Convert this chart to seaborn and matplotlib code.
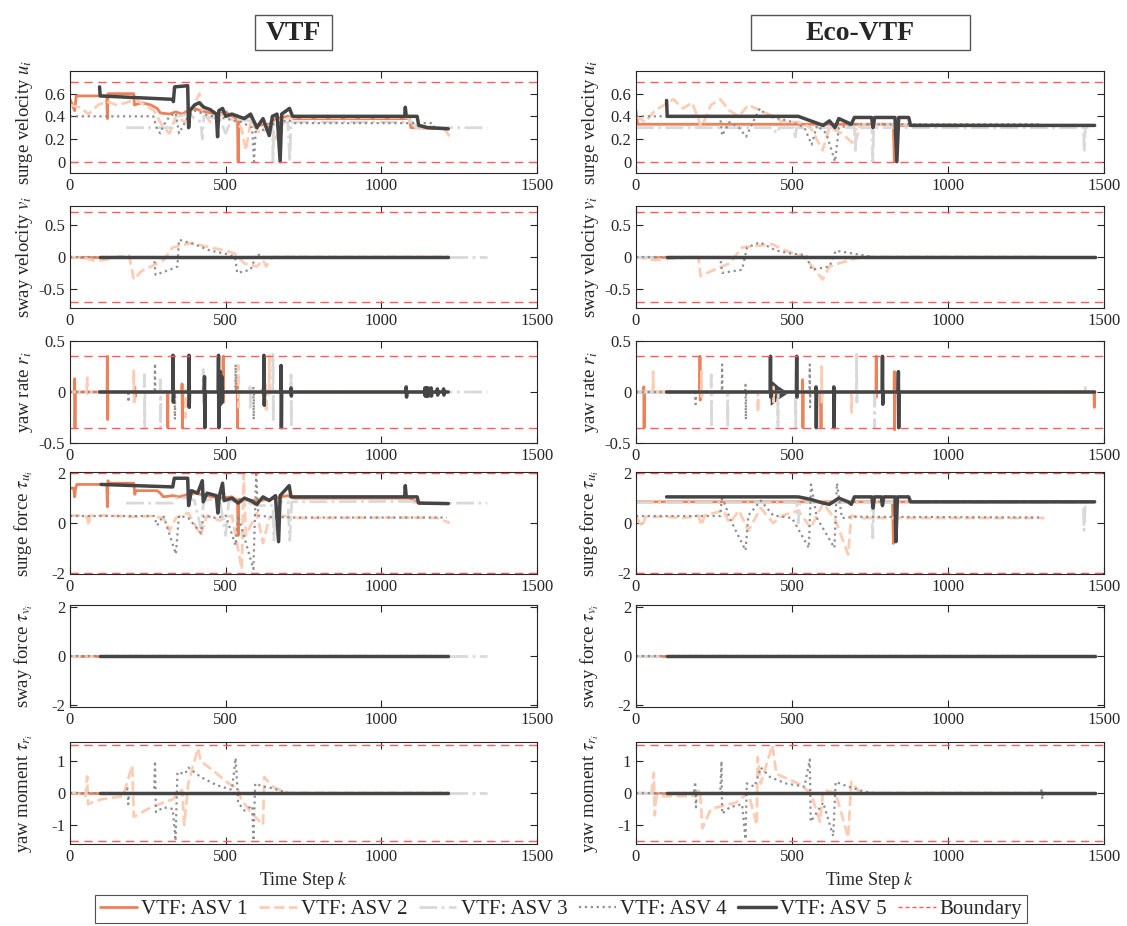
import matplotlib
matplotlib.use('Agg')
import matplotlib.pyplot as plt
import seaborn as sns
import pandas as pd
from matplotlib.lines import Line2D
from matplotlib.patches import Rectangle

# ---------------- data ----------------
# series start / end time steps for ASV 1..5
vtf_start = [0, 0, 180, 0, 95]
vtf_end = [1210, 1220, 1340, 1210, 1215]
eco_start = [0, 0, 0, 0, 98]
eco_end = [1470, 1310, 1450, 1300, 1470]

# surge velocity u_i, (k, value)
u_vtf_1 = [(0, 0.55), (8, 0.5), (15, 0.45), (20, 0.58), (118, 0.58), (120, 0.38), (122, 0.6), (205, 0.6),
           (207, 0.5), (230, 0.52), (260, 0.5), (280, 0.47), (290, 0.43), (320, 0.42), (340, 0.44), (360, 0.42),
           (380, 0.45), (400, 0.47), (420, 0.45), (450, 0.43), (480, 0.42), (500, 0.44), (520, 0.4), (538, 0.38),
           (540, 0.0), (542, 0.38), (580, 0.4), (600, 0.32), (640, 0.33), (660, 0.38), (700, 0.4), (720, 0.38),
           (1090, 0.38), (1095, 0.3), (1210, 0.29)]
u_vtf_2 = [(0, 0.5), (30, 0.48), (60, 0.42), (90, 0.5), (120, 0.53), (150, 0.5), (180, 0.52), (210, 0.55),
           (240, 0.5), (270, 0.45), (300, 0.3), (320, 0.25), (340, 0.4), (370, 0.35), (400, 0.5), (415, 0.6),
           (425, 0.45), (450, 0.35), (480, 0.42), (520, 0.38), (550, 0.3), (565, 0.1), (580, 0.35), (610, 0.25),
           (640, 0.3), (660, 0.2), (690, 0.38), (720, 0.39), (1085, 0.39), (1100, 0.32), (1200, 0.3), (1220, 0.22)]
u_vtf_3 = [(180, 0.3), (330, 0.3), (350, 0.4), (380, 0.42), (420, 0.35), (425, 0.2), (430, 0.4), (480, 0.38),
           (500, 0.25), (520, 0.38), (580, 0.36), (600, 0.3), (650, 0.32), (652, 0.0), (655, 0.33), (700, 0.35),
           (706, 0.0), (710, 0.35), (1100, 0.35), (1110, 0.3), (1340, 0.3)]
u_vtf_4 = [(0, 0.4), (268, 0.4), (280, 0.28), (290, 0.25), (300, 0.32), (320, 0.4), (340, 0.43), (350, 0.25),
           (360, 0.3), (380, 0.4), (400, 0.45), (430, 0.42), (460, 0.4), (500, 0.38), (550, 0.35), (585, 0.3),
           (591, 0.0), (597, 0.3), (620, 0.28), (650, 0.33), (700, 0.37), (720, 0.34), (1165, 0.34), (1170, 0.3),
           (1210, 0.29)]
u_vtf_5 = [(95, 0.66), (97, 0.58), (330, 0.55), (332, 0.53), (336, 0.66), (378, 0.67), (381, 0.3), (385, 0.45),
           (400, 0.5), (415, 0.52), (430, 0.48), (450, 0.46), (470, 0.42), (474, 0.22), (478, 0.45), (490, 0.47),
           (500, 0.4), (520, 0.42), (560, 0.38), (580, 0.42), (600, 0.3), (620, 0.38), (640, 0.23), (650, 0.4),
           (665, 0.42), (675, 0.0), (680, 0.42), (705, 0.47), (715, 0.4), (1075, 0.4), (1077, 0.48), (1080, 0.4),
           (1115, 0.4), (1120, 0.32), (1150, 0.3), (1215, 0.29)]
u_eco_1 = [(0, 0.45), (5, 0.33), (825, 0.33), (828, 0.0), (836, 0.0), (838, 0.32), (1470, 0.32)]
u_eco_2 = [(0, 0.4), (30, 0.35), (60, 0.45), (90, 0.5), (120, 0.55), (150, 0.47), (180, 0.52), (210, 0.3),
           (240, 0.5), (270, 0.55), (300, 0.45), (330, 0.4), (360, 0.5), (400, 0.45), (440, 0.4), (470, 0.35),
           (520, 0.35), (560, 0.3), (598, 0.1), (620, 0.3), (660, 0.25), (700, 0.15), (720, 0.33), (1310, 0.32)]
u_eco_3 = [(0, 0.3), (440, 0.3), (450, 0.25), (460, 0.3), (505, 0.3), (510, 0.2), (515, 0.3), (700, 0.3),
           (703, 0.1), (706, 0.3), (756, 0.3), (759, 0.0), (762, 0.3), (1434, 0.3), (1437, 0.1), (1440, 0.3),
           (1450, 0.3)]
u_eco_4 = [(0, 0.4), (270, 0.4), (276, 0.23), (300, 0.35), (330, 0.3), (353, 0.22), (375, 0.35), (397, 0.47),
           (420, 0.4), (460, 0.38), (500, 0.35), (540, 0.3), (563, 0.15), (580, 0.32), (610, 0.25), (638, 0.0),
           (650, 0.3), (700, 0.33), (1300, 0.33)]
u_eco_5 = [(98, 0.54), (100, 0.4), (520, 0.4), (540, 0.38), (560, 0.36), (600, 0.32), (620, 0.36), (638, 0.3),
           (650, 0.38), (690, 0.33), (700, 0.39), (755, 0.39), (760, 0.3), (765, 0.39), (830, 0.39), (836, 0.0),
           (842, 0.39), (874, 0.39), (880, 0.32), (1470, 0.32)]

# sway velocity v_i
v_vtf_2 = [(0, 0), (50, -0.02), (80, -0.06), (120, -0.04), (150, 0.0), (190, 0.02), (205, -0.35), (230, -0.22),
           (260, -0.15), (300, -0.05), (330, 0.15), (390, 0.22), (450, 0.15), (500, 0.1), (530, 0.05),
           (560, -0.1), (600, -0.15), (620, -0.05), (630, -0.15), (650, 0), (1220, 0)]
v_vtf_4 = [(0, 0), (270, 0.0), (275, -0.28), (320, -0.2), (345, -0.15), (350, 0.27), (400, 0.2), (450, 0.1),
           (500, 0.05), (530, 0.0), (537, -0.25), (580, -0.2), (600, 0.05), (620, 0.0), (1210, 0)]
v_eco_2 = [(0, 0), (60, -0.05), (120, -0.02), (200, 0.0), (207, -0.3), (250, -0.2), (300, -0.1), (340, 0.15),
           (437, 0.2), (480, 0.1), (540, 0.0), (598, -0.35), (620, -0.15), (650, -0.1), (720, 0), (1310, 0)]
v_eco_4 = [(0, 0), (270, 0), (276, -0.25), (340, -0.2), (356, 0.15), (397, 0.23), (450, 0.1), (500, 0.05),
           (545, 0.03), (563, -0.2), (620, -0.15), (640, 0.1), (700, 0.05), (760, 0), (1300, 0)]

# yaw rate r_i: spikes (k, high, low) on a zero base line
r_vtf_1 = [(15, 0.13, -0.35), (120, 0.35, -0.27), (208, 0.05, -0.05), (313, 0.0, -0.35), (360, 0.08, -0.35),
           (492, 0.35, -0.1), (537, 0.15, -0.35), (620, 0.03, -0.03), (1080, 0.02, -0.02)]
r_vtf_2 = [(55, 0.14, -0.02), (205, 0.22, -0.1), (370, 0.02, -0.25), (540, 0.26, -0.15), (629, 0.1, -0.2),
           (640, 0.37, -0.02)]
r_vtf_3 = [(239, 0.17, -0.35), (290, 0.12, -0.35), (428, 0.22, -0.1), (578, 0.05, -0.15), (652, 0.37, -0.3),
           (710, 0.17, -0.35)]
r_vtf_4 = [(187, 0.0, -0.1), (273, 0.28, 0.0), (336, 0.0, -0.27), (532, 0.27, 0.0), (589, 0.05, -0.27)]
r_vtf_5 = [(331, 0.36, -0.1), (382, 0.36, -0.15), (432, 0.15, -0.35), (477, 0.36, -0.35), (483, 0.2, -0.12),
           (488, 0.15, -0.1), (623, 0.36, -0.13), (678, 0.26, -0.35), (710, 0.04, -0.04), (1080, 0.05, -0.05),
           (1140, 0.04, -0.04), (1145, 0.04, -0.04), (1150, 0.04, -0.04), (1160, 0.04, -0.04),
           (1180, 0.03, -0.03), (1200, 0.03, -0.03)]
r_eco_1 = [(25, 0.05, -0.35), (205, 0.35, -0.08), (534, 0.12, -0.35), (592, 0.0, -0.35), (770, 0.35, -0.05),
           (828, 0.2, -0.37), (1468, 0.0, -0.15)]
r_eco_2 = [(55, 0.2, 0.0), (210, 0.2, -0.05), (390, 0.0, -0.2), (440, 0.05, -0.1), (595, 0.25, -0.1),
           (690, 0.0, -0.2)]
r_eco_3 = [(241, 0.17, -0.35), (293, 0.0, -0.35), (454, 0.0, -0.35), (511, 0.0, -0.35), (707, 0.37, -0.1),
           (764, 0.0, -0.35), (1440, 0.07, 0.0)]
r_eco_4 = [(190, 0.0, -0.12), (276, 0.27, 0.0), (351, 0.07, -0.27), (557, 0.27, -0.15), (634, 0.0, -0.22),
           (1290, 0.03, -0.03)]
r_eco_5 = [(431, 0.35, -0.05), (515, 0.35, -0.05), (577, 0.05, -0.35), (634, 0.05, -0.35), (790, 0.35, -0.12),
           (841, 0.2, -0.35)]
# dense oscillation of Eco-VTF ASV 5 after k=430, drawn as its envelope
r_eco_5_env_k = [430, 440, 455, 470, 485, 495]
r_eco_5_env_hi = [0.12, 0.1, 0.06, 0.03, 0.01, 0.0]
r_eco_5_env_lo = [-0.13, -0.11, -0.07, -0.04, -0.01, 0.0]

# surge force tau_u
tu_vtf_1 = [(0, 1.4), (12, 1.4), (15, 1.05), (18, 1.4), (22, 1.55), (118, 1.55), (120, 0.65), (122, 1.7),
            (125, 1.6), (205, 1.6), (208, 1.15), (212, 1.3), (280, 1.3), (290, 1.2), (300, 1.05), (330, 1.1),
            (350, 1.05), (380, 1.15), (400, 1.2), (440, 1.1), (480, 1.0), (520, 1.05), (538, 0.9), (540, -0.5),
            (542, 0.95), (600, 0.9), (640, 0.95), (700, 1.1), (720, 1.0), (1090, 1.0), (1120, 0.8), (1210, 0.78)]
tu_vtf_2 = [(0, 0.3), (40, 0.3), (55, 0.25), (60, -0.1), (65, 0.3), (120, 0.3), (200, 0.25), (260, 0.28),
            (300, 0.2), (320, -0.3), (340, 0.2), (380, 0.4), (420, -0.5), (440, 0.3), (480, 0.1), (520, 0.3),
            (552, -1.87), (558, 1.97), (565, -0.5), (600, 0.4), (620, -0.8), (640, 0.2), (680, 0.3), (720, 0.2),
            (1100, 0.22), (1180, 0.2), (1220, 0.0)]
tu_vtf_3 = [(180, 0.8), (330, 0.8), (340, 1.0), (380, 1.0), (400, 0.9), (420, -0.2), (430, 0.9), (480, 1.0),
            (500, -0.5), (510, 0.9), (580, 0.8), (600, 0.7), (652, 0.7), (655, -0.7), (660, 0.85), (700, 0.85),
            (706, -0.7), (712, 0.85), (1100, 0.87), (1110, 0.8), (1340, 0.8)]
tu_vtf_4 = [(0, 0.28), (270, 0.28), (280, -0.1), (300, 0.3), (340, -1.25), (350, 0.3), (380, 0.2), (420, -0.4),
            (430, 0.3), (470, 0.2), (500, 0.3), (532, -0.9), (540, 0.3), (589, -1.85), (598, 1.95), (605, 0.3),
            (640, 0.25), (720, 0.22), (1210, 0.22)]
tu_vtf_5 = [(100, 1.55), (330, 1.45), (335, 1.8), (378, 1.8), (381, 0.7), (390, 1.3), (410, 1.2), (425, 1.7),
            (428, 0.85), (440, 1.2), (470, 1.1), (475, 0.4), (480, 1.1), (490, 1.6), (495, 0.9), (520, 1.0),
            (540, 0.8), (560, 1.0), (580, 0.9), (600, 0.75), (620, 1.05), (640, 0.9), (660, 1.1), (670, -0.75),
            (675, 1.1), (704, 1.5), (710, 1.05), (1075, 1.05), (1077, 1.5), (1080, 1.05), (1115, 1.05),
            (1120, 0.8), (1215, 0.78)]
tu_eco_1 = [(0, 0.85), (822, 0.85), (825, -0.82), (830, 0.85), (1470, 0.85)]
tu_eco_2 = [(0, 0.25), (20, -0.15), (30, 0.25), (100, 0.25), (150, 0.2), (200, 0.3), (210, -0.1), (220, 0.3),
            (280, 0.5), (300, 0.0), (330, 0.5), (360, -0.3), (400, 0.6), (440, 0.0), (470, 0.3), (520, 0.5),
            (560, -0.2), (600, 0.8), (640, 0.1), (680, -1.27), (690, 0.3), (720, 0.2), (1310, 0.2)]
tu_eco_3 = [(0, 0.82), (515, 0.82), (520, 0.0), (525, 0.82), (756, 0.82), (759, -0.6), (762, 0.82),
            (1434, 0.82), (1436, -0.3), (1440, 0.82), (1450, 0.82)]
tu_eco_4 = [(0, 0.28), (270, 0.28), (276, 1.1), (300, 0.2), (351, -1.1), (360, 0.3), (400, 0.9), (440, 0.3),
            (500, 0.2), (554, -1.0), (561, 1.55), (580, 0.2), (636, -1.0), (644, 1.6), (660, 0.2), (700, 0.25),
            (1300, 0.22)]
tu_eco_5 = [(98, 1.05), (520, 1.05), (560, 0.95), (600, 0.8), (620, 0.75), (650, 1.0), (680, 0.85), (690, 0.75),
            (700, 1.05), (756, 1.05), (760, 0.6), (764, 1.05), (786, 1.05), (790, 0.7), (794, 1.05), (830, 1.05),
            (833, -0.75), (838, 1.05), (874, 1.05), (880, 0.85), (1470, 0.85)]

# yaw moment tau_r
tr_vtf_2 = [(0, 0), (20, 0), (50, -0.1), (55, 0.52), (58, -0.35), (100, -0.2), (170, -0.1), (200, 0.86),
            (205, -0.75), (250, -0.5), (300, -0.3), (330, -0.2), (360, 0.1), (367, -1.0), (380, 0.3), (411, 1.4),
            (420, 1.0), (460, 0.7), (510, 0.3), (540, 0.1), (550, -0.2), (580, -0.6), (620, -1.0), (624, 0.5),
            (650, 0.2), (700, 0.0), (1220, 0)]
tr_vtf_4 = [(0, 0), (180, 0), (185, 0.15), (187, -0.35), (190, 0.0), (270, 0.0), (273, 1.0), (276, -0.6),
            (300, -0.45), (330, -0.5), (339, -1.5), (345, 0.65), (370, 0.6), (380, 0.8), (420, 0.5), (470, 0.25),
            (520, 0.1), (532, 1.1), (540, -0.3), (560, -0.55), (585, -0.4), (589, -1.5), (595, 0.3), (620, 0.2),
            (650, 0.15), (700, 0.0), (1210, 0)]
tr_eco_2 = [(0, 0), (50, 0.0), (57, 0.63), (60, -0.7), (65, -0.1), (180, -0.1), (205, 0.1), (213, -1.1),
            (240, -0.5), (320, -0.3), (360, 0.0), (387, -1.0), (390, 1.13), (400, 0.3), (437, 1.5), (450, 0.6),
            (520, 0.3), (560, 0.0), (590, -0.9), (600, 0.1), (640, 0.0), (680, -1.4), (690, 0.35), (720, 0.0),
            (1310, 0)]
tr_eco_4 = [(0, 0), (185, 0), (190, 0.35), (192, -0.45), (195, 0.0), (270, 0.0), (274, 1.0), (276, -0.65),
            (300, -0.45), (340, -0.35), (351, -1.45), (355, 0.3), (380, 0.2), (400, 0.8), (430, 0.5), (480, 0.3),
            (540, 0.2), (557, 1.05), (560, -0.9), (600, -0.3), (632, -1.35), (640, 0.35), (680, 0.2), (730, 0.05),
            (760, 0.0), (1298, 0.0), (1300, 0.15), (1302, -0.2), (1304, 0.0), (1300, 0.0)]

# boundaries per row: (lower, upper); None = outside shown range
bounds = [(0.0, 0.7), (-0.7, 0.7), (-0.35, 0.35), (-2.0, 2.0), None, (-1.5, 1.5)]
ylims = [(-0.1, 0.8), (-0.8, 0.8), (-0.5, 0.5), (-2.05, 2.05), (-2.1, 2.1), (-1.6, 1.6)]
yticks = [[0, 0.2, 0.4, 0.6], [-0.5, 0, 0.5], [-0.5, 0, 0.5], [-2, 0, 2], [-2, 0, 2], [-1, 0, 1]]
ylabels = ['surge velocity $u_i$', 'sway velocity $v_i$', 'yaw rate $r_i$',
           r'surge force $\tau_{u_i}$', r'sway force $\tau_{v_i}$', r'yaw moment $\tau_{r_i}$']
titles = ['VTF', 'Eco-VTF']
legend_labels = ['VTF: ASV 1', 'VTF: ASV 2', 'VTF: ASV 3', 'VTF: ASV 4', 'VTF: ASV 5', 'Boundary']

# ---------------- styling ----------------
sns.set_style('ticks')
plt.rcParams['font.family'] = ['Liberation Serif', 'DejaVu Serif']
plt.rcParams['mathtext.fontset'] = 'stix'
plt.rcParams['axes.edgecolor'] = '#262626'
plt.rcParams['axes.linewidth'] = 0.8

colors = ['#EB825A', '#FCCDB4', '#D9D9D9', '#8F8F8F', '#454545']
styles = ['-', '--', '-.', ':', '-']
widths = [2.0, 2.0, 2.0, 1.6, 2.5]
bound_color = '#FF5C5C'


def flat(start, end):
    return [(start, 0.0), (end, 0.0)]


def spike_line(start, end, spikes):
    pts = [(start, 0.0)]
    for k, hi, lo in spikes:
        pts += [(k - 1, 0.0), (k, hi), (k + 1, lo), (k + 2, 0.0)]
    pts.append((end, 0.0))
    return pts


S, E = vtf_start, vtf_end
s, e = eco_start, eco_end
panels = [
    [[u_vtf_1, u_vtf_2, u_vtf_3, u_vtf_4, u_vtf_5],
     [u_eco_1, u_eco_2, u_eco_3, u_eco_4, u_eco_5]],
    [[flat(S[0], E[0]), v_vtf_2, flat(S[2], E[2]), v_vtf_4, flat(S[4], E[4])],
     [flat(s[0], e[0]), v_eco_2, flat(s[2], e[2]), v_eco_4, flat(s[4], e[4])]],
    [[spike_line(S[i], E[i], r) for i, r in enumerate([r_vtf_1, r_vtf_2, r_vtf_3, r_vtf_4, r_vtf_5])],
     [spike_line(s[i], e[i], r) for i, r in enumerate([r_eco_1, r_eco_2, r_eco_3, r_eco_4, r_eco_5])]],
    [[tu_vtf_1, tu_vtf_2, tu_vtf_3, tu_vtf_4, tu_vtf_5],
     [tu_eco_1, tu_eco_2, tu_eco_3, tu_eco_4, tu_eco_5]],
    [[flat(S[i], E[i]) for i in range(5)],
     [flat(s[i], e[i]) for i in range(5)]],
    [[flat(S[0], E[0]), tr_vtf_2, flat(S[2], E[2]), tr_vtf_4, flat(S[4], E[4])],
     [flat(s[0], e[0]), tr_eco_2, flat(s[2], e[2]), tr_eco_4, flat(s[4], e[4])]],
]

fig = plt.figure(figsize=(11.27, 9.26), dpi=100)
W, H = 1127, 926
row_tops = [71, 206, 341, 472, 605, 742]
row_h = 102
col_x = [(70, 467), (636, 468)]

for r in range(6):
    for c in range(2):
        x0, w = col_x[c]
        ax = fig.add_axes([x0 / W, 1 - (row_tops[r] + row_h) / H, w / W, row_h / H])
        for i, pts in enumerate(panels[r][c]):
            d = pd.DataFrame(pts, columns=['k', 'y'])
            sns.lineplot(data=d, x='k', y='y', ax=ax, sort=False, estimator=None,
                         color=colors[i], linestyle=styles[i], linewidth=widths[i])
        if r == 2 and c == 1:
            ax.fill_between(r_eco_5_env_k, r_eco_5_env_lo, r_eco_5_env_hi, color=colors[4], lw=0)
        if bounds[r] is not None:
            for b in bounds[r]:
                ax.axhline(b, color=bound_color, linestyle=(0, (6, 4)), linewidth=1.0)
        ax.set_xlim(0, 1500)
        ax.set_ylim(*ylims[r])
        ax.set_xticks([0, 500, 1000, 1500])
        ax.set_yticks(yticks[r])
        ax.set_yticklabels([f'{t:g}' for t in yticks[r]])
        ax.tick_params(direction='in', top=True, right=True, labelsize=12, length=5, width=0.8,
                       colors='#262626', labelcolor='#262626')
        ax.set_ylabel(ylabels[r], fontsize=13.5)
        ax.yaxis.set_label_coords(-0.075, 0.5)
        ax.set_xlabel('Time Step $k$' if r == 5 else '', fontsize=13)

# title boxes
for (bx0, bx1, cx), t in zip([(255, 332, 293), (751, 970, 860)], titles):
    fig.patches.append(Rectangle((bx0 / W, 1 - 50 / H), (bx1 - bx0) / W, 35 / H, transform=fig.transFigure,
                                 facecolor='white', edgecolor='#555555', linewidth=1.0))
    fig.text(cx / W, 1 - 33 / H, t, ha='center', va='center', fontsize=20, fontweight='bold')

handles = [Line2D([], [], color=colors[i], linestyle=styles[i], linewidth=widths[i]) for i in range(5)]
handles.append(Line2D([], [], color=bound_color, linestyle=(0, (3, 2)), linewidth=1.0))
leg = fig.legend(handles, legend_labels, loc='center', bbox_to_anchor=(561 / W, 1 - 909 / H), ncol=6,
                 frameon=True, fancybox=False, edgecolor='#262626', fontsize=15, handlelength=1.8,
                 handletextpad=0.2, columnspacing=0.55, borderpad=0.2, borderaxespad=0)
leg.get_frame().set_linewidth(0.8)

fig.savefig('out.png', dpi=100)
